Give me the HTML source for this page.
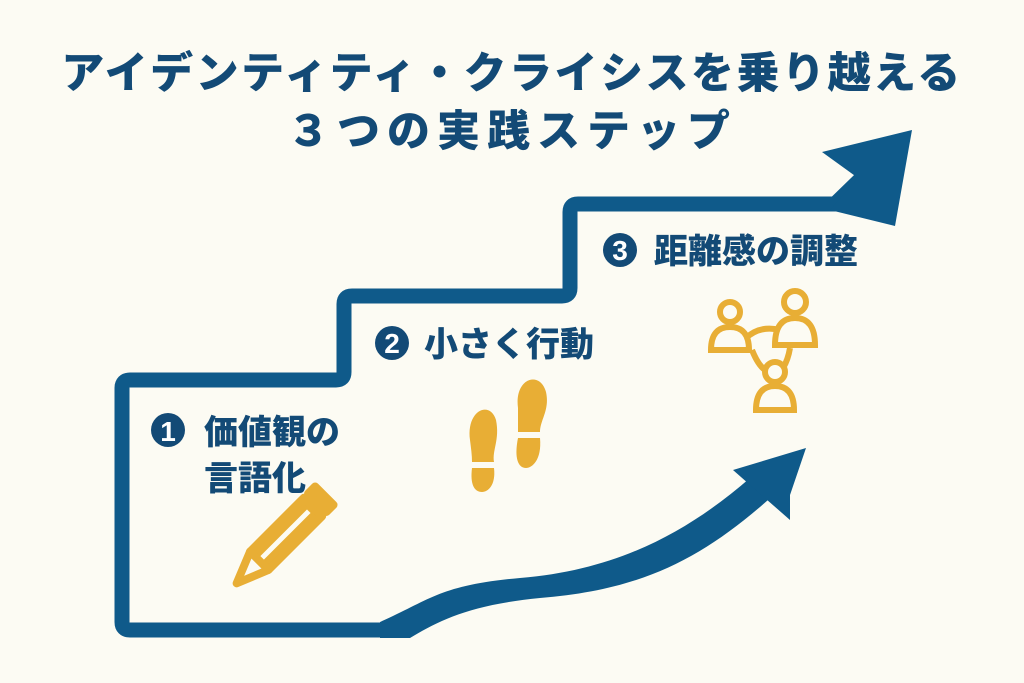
<!DOCTYPE html>
<html><head><meta charset="utf-8"><style>
body{margin:0;width:1024px;height:683px;background:#fcfbf3;overflow:hidden}
svg{display:block}
text{font-family:"Liberation Sans","Noto Sans CJK JP",sans-serif;font-weight:900;fill:#134a76}
</style></head><body>
<svg width="1024" height="683" viewBox="0 0 1024 683">
<text x="512" y="88" font-size="43" text-anchor="middle" letter-spacing="2.5">アイデンティティ・クライシスを乗り越える</text>
<text x="512" y="146" font-size="43" text-anchor="middle" letter-spacing="7">３つの実践ステップ</text>
<!-- stairs -->
<path d="M380 630 L130 630 Q122 630 122 622 L122 388 Q122 380 130 380 L336 380 Q344 380 344 372 L344 304 Q344 296 352 296 L562 296 Q570 296 570 288 L570 212 Q570 204 578 204 L835 204 L870 170" fill="none" stroke="#0f5a8a" stroke-width="15" stroke-linejoin="round"/>
<polygon points="912,130 822,152 858,178 830,210 895,226" fill="#0f5a8a"/>
<!-- bottom curved arrow -->
<path d="M380 622 C430 600 440 585 520 578 C620 570 690 530 750 478 L768 500 C700 560 640 590 540 598 C470 605 440 620 410 638 L380 638 Z" fill="#0f5a8a"/>
<polygon points="806,448 733,470 790,520 790,495" fill="#0f5a8a"/>
<!-- labels -->
<circle cx="168" cy="430" r="17" fill="#134a76"/><text x="168" y="441" font-size="28" text-anchor="middle" style="fill:#fff">1</text>
<text x="204" y="444" font-size="34">価値観の</text>
<text x="204" y="490" font-size="34">言語化</text>
<circle cx="392" cy="343" r="17" fill="#134a76"/><text x="392" y="353" font-size="28" text-anchor="middle" style="fill:#fff">2</text>
<text x="424" y="356" font-size="34">小さく行動</text>
<circle cx="620" cy="250" r="17" fill="#134a76"/><text x="620" y="260" font-size="28" text-anchor="middle" style="fill:#fff">3</text>
<text x="654" y="263" font-size="34">距離感の調整</text>
<!-- pencil -->
<g transform="translate(272,548) rotate(45)" stroke="#e8ae35" stroke-width="8" stroke-linejoin="round">
<rect x="-13" y="-58" width="26" height="76" fill="#e8ae35"/>
<line x1="0" y1="-52" x2="0" y2="14" stroke="#fcfbf3" stroke-width="5"/>
<path d="M-13 18 L0 50 L13 18 Z" fill="#fcfbf3"/>
<rect x="-13" y="-74" width="26" height="10" fill="#e8ae35"/>
</g>
<!-- footprints -->
<g fill="#e8ae35">
<path d="M470 440 C466 410 490 400 496 420 C500 440 492 450 494 462 L472 462 C472 455 471 448 470 440 Z"/>
<path d="M472 468 L494 468 C496 485 488 492 482 492 C474 492 470 484 472 468 Z"/>
<path d="M518 408 C514 378 540 370 546 392 C550 410 540 420 540 432 L518 432 C518 425 518 416 518 408 Z"/>
<path d="M518 438 L540 438 C542 460 532 468 526 468 C518 468 514 458 518 438 Z"/>
</g>
<!-- people -->
<g fill="none" stroke="#e8ae35" stroke-width="6">
<path d="M746 338 Q760 325 780 330 M752 350 Q758 365 765 370 M790 348 Q788 360 783 368"/>
<circle cx="730" cy="312" r="10"/><path d="M711 350 Q711 327 730 327 Q749 327 749 350 Z"/>
<circle cx="795" cy="302" r="11"/><path d="M775 345 Q775 318 795 318 Q815 318 815 345 Z"/>
<circle cx="775" cy="372" r="10"/><path d="M756 410 Q756 386 775 386 Q794 386 794 410 Z"/>
</g>
</svg>
</body></html>
